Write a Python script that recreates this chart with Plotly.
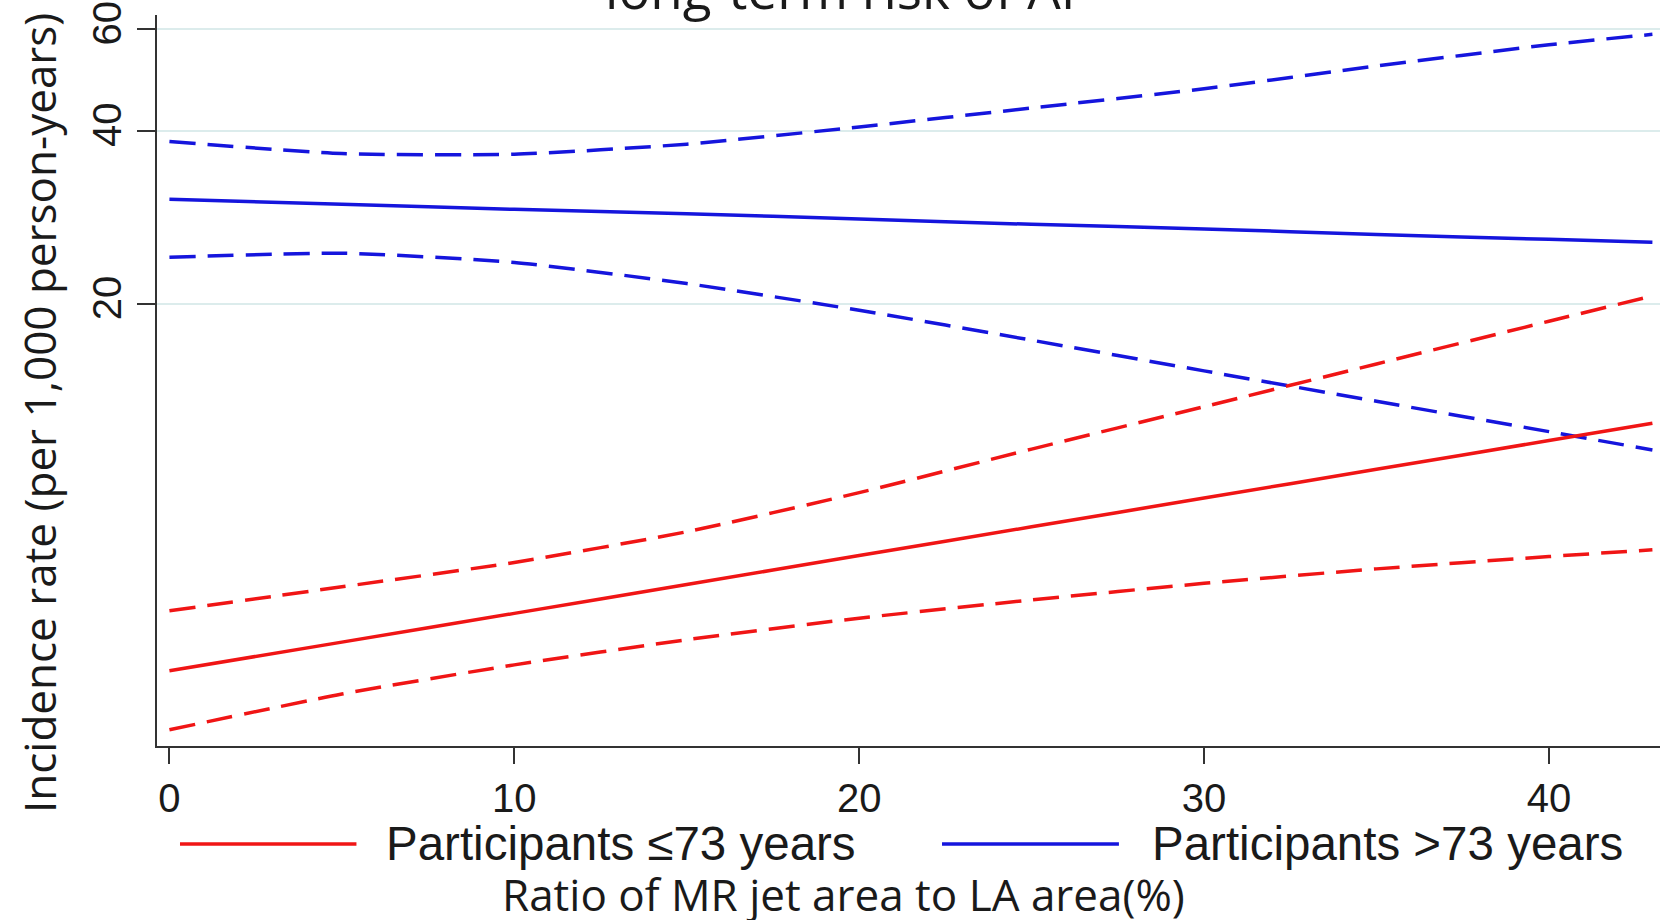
import plotly.graph_objects as go

# ratio of MR jet area to LA area (%)
x_vals = [0, 5, 10, 15, 20, 25, 30, 35, 40, 43]

# participants <=73 years: rate and 95% CI
young_rate = [4.61, 5.17, 5.80, 6.51, 7.31, 8.20, 9.20, 10.32, 11.58, 12.41]
young_upper = [5.86, 6.45, 7.11, 8.04, 9.40, 11.19, 13.26, 15.73, 18.66, 20.65]
young_lower = [3.64, 4.20, 4.72, 5.22, 5.69, 6.12, 6.54, 6.93, 7.28, 7.48]

# participants >73 years: rate and 95% CI
old_rate = [30.4, 29.8, 29.2, 28.7, 28.1, 27.5, 27.0, 26.4, 25.9, 25.6]
old_upper = [38.3, 36.5, 36.4, 37.9, 40.6, 43.8, 47.3, 51.8, 56.4, 58.8]
old_lower = [24.1, 24.5, 23.6, 21.7, 19.5, 17.3, 15.3, 13.55, 12.0, 11.15]

y_ticks = [20, 40, 60]
x_ticks = [0, 10, 20, 30, 40]

RED = "#f01515"
BLUE = "#1515dd"
DASH = "26px,12px"

fig = go.Figure()

def add_line(y, color, dash):
    fig.add_trace(go.Scatter(x=x_vals, y=y, mode="lines", showlegend=False,
                             line=dict(color=color, width=3.5, dash=dash, shape="spline", smoothing=0.6)))

add_line(old_upper, BLUE, DASH)
add_line(old_lower, BLUE, DASH)
add_line(old_rate, BLUE, "solid")
add_line(young_upper, RED, DASH)
add_line(young_lower, RED, DASH)
add_line(young_rate, RED, "solid")

tick_font = dict(family="Liberation Sans, Arial, sans-serif", size=40, color="#1a1a1a")
title_font = dict(family="Open Sans, Lato, sans-serif", size=44, color="#1a1a1a")

fig.update_xaxes(range=[-0.36, 43.22], tickvals=x_ticks, ticks="outside", ticklen=16,
                 tickwidth=2, tickcolor="#333", showline=True, linecolor="#333", linewidth=2,
                 showgrid=False, zeroline=False, tickfont=tick_font, automargin=False)
fig.update_yaxes(type="log", range=[0.533, 1.803], tickvals=y_ticks,
                 ticktext=[str(v) for v in y_ticks], tickangle=-90, ticks="outside",
                 ticklen=18, tickwidth=2, tickcolor="#333", showline=True, linecolor="#333",
                 linewidth=2, showgrid=True, gridcolor="#dcecec", gridwidth=2,
                 zeroline=False, tickfont=tick_font, automargin=False)

# legend drawn by hand, Stata-style long samples
legend_items = [("Participants \u226473 years", RED, 0.0153, 0.1327, 0.151),
                ("Participants >73 years", BLUE, 0.5223, 0.640, 0.6605)]
for label, color, x0, x1, xt in legend_items:
    fig.add_shape(type="line", xref="paper", yref="paper", x0=x0, x1=x1, y0=-0.134, y1=-0.134,
                  line=dict(color=color, width=3.5))
    fig.add_annotation(text=label, xref="paper", yref="paper", x=xt, y=-0.134,
                       xanchor="left", yanchor="middle", showarrow=False,
                       font=dict(family="Liberation Sans, Arial, sans-serif", size=47.5, color="#1a1a1a"))

fig.add_annotation(text="Ratio of MR jet area to LA area(%)", xref="paper", yref="paper",
                   x=0.457, y=-0.2025, xanchor="center", yanchor="middle", showarrow=False,
                   font=title_font)
fig.add_annotation(text="Incidence rate (per 1,000 person-years)", xref="paper", yref="paper",
                   x=-0.0785, y=0.4555, xanchor="center", yanchor="middle", showarrow=False,
                   textangle=-90, font=title_font)
# title sits mostly above the page edge, as in the cropped original
fig.add_annotation(text="long-term risk of AF", xref="paper", yref="paper",
                   x=0.459, y=0.9836, xanchor="center", yanchor="bottom", showarrow=False,
                   font=dict(family="Open Sans, Lato, sans-serif", size=53, color="#1a1a1a"))

fig.update_layout(width=1660, height=920, margin=dict(l=157, r=0, t=15, b=174),
                  plot_bgcolor="white", paper_bgcolor="white", showlegend=False)

# drop the default page margin so the figure sits at the window corner
fig.write_html("out.html", config={"displayModeBar": False},
               post_script="document.body.style.margin='0';")
